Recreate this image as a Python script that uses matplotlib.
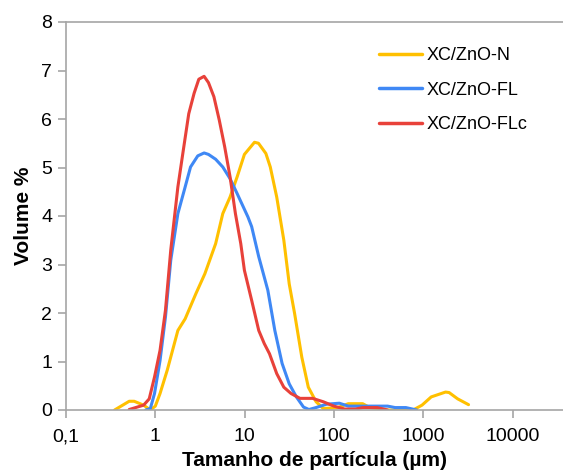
import matplotlib
matplotlib.use("Agg")
import matplotlib.pyplot as plt
import numpy as np

plt.rcParams['font.family'] = ['Liberation Sans', 'DejaVu Sans']

# XC/ZnO-N
n_x = [0.35, 0.51, 0.58, 0.74, 0.88, 1.0, 1.13, 1.36, 1.79, 2.16, 2.85, 3.59, 4.74, 5.7, 6.87,
       8.26, 9.95, 12.9, 14.3, 17.3, 19.4, 22.9, 27.5, 31.6, 36.3, 43.7, 51.7, 63.2, 76, 110,
       145, 210, 252, 400, 770, 970, 1230, 1780, 1950, 2430, 3220]
n_y = [0.0, 0.18, 0.18, 0.10, 0.0, 0.08, 0.34, 0.82, 1.64, 1.88, 2.4, 2.81, 3.43, 4.05, 4.39,
       4.81, 5.27, 5.52, 5.50, 5.29, 5.01, 4.39, 3.5, 2.6, 1.99, 1.09, 0.47, 0.17, 0.03, 0.05,
       0.13, 0.13, 0.05, 0.0, 0.0, 0.10, 0.27, 0.37, 0.36, 0.23, 0.11]

# XC/ZnO-FL
fl_x = [0.78, 0.88, 0.98, 1.13, 1.30, 1.49, 1.79, 2.16, 2.48, 2.99, 3.52, 3.94, 4.74, 5.7, 6.87,
        8.26, 10.9, 12.0, 14.4, 18.2, 21.8, 26.3, 31.6, 38, 45.7, 52.5, 63, 83, 115, 145, 192,
        400, 485, 640, 845]
fl_y = [0.0, 0.03, 0.34, 1.02, 1.92, 3.09, 4.05, 4.6, 5.01, 5.24, 5.30, 5.27, 5.17, 5.01, 4.77,
        4.46, 3.98, 3.78, 3.16, 2.47, 1.64, 0.96, 0.54, 0.27, 0.06, 0.01, 0.05, 0.12, 0.14, 0.08,
        0.08, 0.08, 0.05, 0.05, 0.0]

# XC/ZnO-FLc
flc_x = [0.51, 0.74, 0.855, 0.98, 1.13, 1.30, 1.49, 1.79, 2.06, 2.37, 2.72, 3.07, 3.52, 3.94,
         4.53, 5.2, 5.98, 6.87, 7.89, 9.06, 9.95, 12.0, 14.4, 16.6, 19.0, 22.9, 27.5, 33.1,
         41.7, 57.7, 76, 100, 132, 175, 210, 305, 400]
flc_y = [0.01, 0.10, 0.23, 0.68, 1.23, 2.06, 3.30, 4.6, 5.36, 6.11, 6.53, 6.82, 6.88, 6.75,
         6.46, 5.98, 5.43, 4.81, 4.05, 3.43, 2.88, 2.26, 1.64, 1.37, 1.16, 0.75, 0.47, 0.34,
         0.24, 0.24, 0.17, 0.08, 0.02, 0.02, 0.05, 0.05, 0.0]

series = [("XC/ZnO-N", n_x, n_y, '#FFC000'),
          ("XC/ZnO-FL", fl_x, fl_y, '#3F88F5'),
          ("XC/ZnO-FLc", flc_x, flc_y, '#E8413A')]

xticks = [0.1, 1, 10, 100, 1000, 10000]
xticklabels = ["0,1", "1", "10", "100", "1000", "10000"]
yticks = [0, 1, 2, 3, 4, 5, 6, 7, 8]

fig = plt.figure(figsize=(5.63, 4.75), dpi=100)
W, H = 563, 475
ax = fig.add_axes([66 / W, (H - 410) / H, (563 - 66) / W, (410 - 22) / H])

for name, xs, ys, c in series:
    ax.plot(xs, ys, color=c, lw=2.2, label=name, solid_joinstyle='round', solid_capstyle='round')

ax.set_xscale('log')
ax.set_xlim(0.1, 10 ** (-1 + (563 - 66) / 89.3))
ax.set_ylim(0, 8)
ax.set_xticks(xticks)
ax.set_xticklabels(xticklabels)
ax.xaxis.set_minor_locator(matplotlib.ticker.NullLocator())
ax.set_yticks(yticks)

for s in ['left', 'bottom', 'top']:
    ax.spines[s].set_color('#A6A6A6')
    ax.spines[s].set_linewidth(1.2)
ax.spines['right'].set_visible(False)
ax.tick_params(axis='both', colors='#A6A6A6', labelcolor='black', labelsize=14,
               length=6, width=1.2, direction='out')
ax.tick_params(axis='x', pad=7)
ax.tick_params(axis='y', pad=4)

ax.set_xlabel("Tamanho de partícula (µm)", fontsize=15, fontweight='bold', labelpad=4)
ax.set_ylabel("Volume %", fontsize=15, fontweight='bold', labelpad=6)

leg = ax.legend(loc='upper left', bbox_to_anchor=((370 - 66) / (563 - 66), 1 - (38 - 22) / 388),
                frameon=False, fontsize=13, handlelength=2.4, handletextpad=0.25,
                labelspacing=0.98, borderpad=0)
for line in leg.get_lines():
    line.set_linewidth(2.5)

fig.savefig("out.png", dpi=100)
